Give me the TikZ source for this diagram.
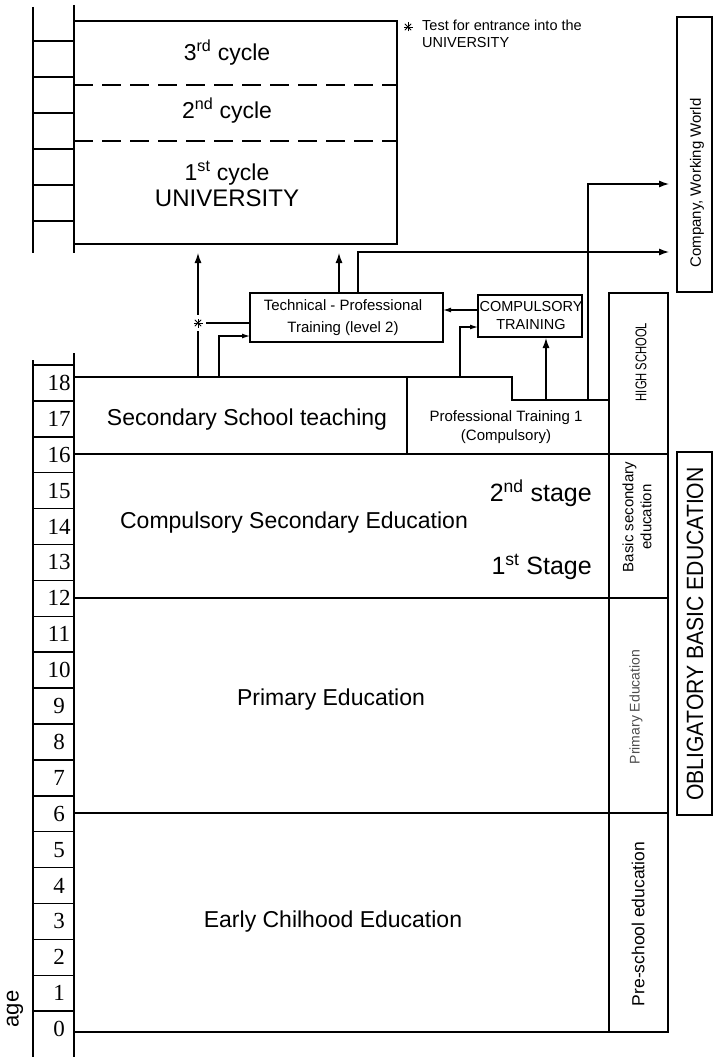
\documentclass[tikz,border=0pt]{standalone}
\usepackage{fontspec}
\setmainfont{Liberation Sans}
\newfontfamily\numfont{Liberation Serif}
\newfontfamily\condfont[FakeStretch=0.72]{Liberation Sans}
\newfontfamily\semicond[FakeStretch=0.9]{Liberation Sans}
\usetikzlibrary{arrows.meta}

\newcommand\fz[2]{\fontsize{#1}{#2}\selectfont}

\tikzset{
  frame/.style={draw, line width=1.7pt, inner sep=0pt, outer sep=0pt, rectangle},
  box/.style={draw, line width=1.3pt, inner sep=0pt, outer sep=0pt, rectangle},
  rail/.style={line width=1.7pt},
  rung/.style={line width=1.5pt},
  link/.style={line width=1.2pt},
  arr/.style={link, -{Latex[length=10pt,width=7pt]}},
  arrs/.style={link, -{Latex[length=8pt,width=5pt]}},
  num/.style={font=\numfont\fz{23}{23}, inner sep=0pt},
  big/.style={font=\fz{23}{27}, inner sep=0pt},
  small/.style={font=\fz{15}{20}, inner sep=0pt, align=center},
  side/.style={rotate=90, inner sep=0pt, align=center},
  asterisk/.style={circle, minimum size=16pt, inner sep=0pt,
    path picture={
      \foreach \a in {0,45,90,135}
        \draw[line width=0.8pt, shift={(path picture bounding box.center)}]
          (\a:4.5) -- (\a+180:4.5);
    }},
}

\begin{document}
\begin{tikzpicture}[x=1pt, y=-1pt]
\useasboundingbox (0,0) rectangle (713,1057);

% ---------- university ladder ----------
\draw[rail] (33,7) -- (33,253);
\draw[rail] (74,5) -- (74,253);
\foreach \k in {0,...,5}
  \draw[rung] (33,{41+36*\k}) -- (74,{41+36*\k});

% ---------- university block ----------
\node[frame, minimum width=323pt, minimum height=223pt] (univ) at (235.5,132.5) {};
\draw[line width=1.5pt, dash pattern=on 19pt off 9pt] (74,85) -- (397,85);
\draw[line width=1.5pt, dash pattern=on 19pt off 9pt] (74,141) -- (397,141);
\node[big] (c3) at (227,53) {3\textsuperscript{rd} cycle};
\node[big] (c2) at (227,111) {2\textsuperscript{nd} cycle};
\node[big, align=center, font=\fz{23}{27}] (c1) at (227,184)
  {1\textsuperscript{st} cycle\\[-1pt]{\fz{24}{27}UNIVERSITY}};

% ---------- note ----------
\node[asterisk] (notestar) at (408,27) {};
\node[anchor=north west, inner sep=0pt, align=left, font=\fz{14.5}{16.5}] (note)
  at (422,20) {Test for entrance into the\\UNIVERSITY};

% ---------- company ----------
\node[frame, minimum width=35pt, minimum height=275pt] (company) at (694.5,154.5) {};
\node[side, font=\fz{15}{15}] (companyT) at (697,183) {Company, Working World};

% ---------- training boxes ----------
\node[box, minimum width=193pt, minimum height=49pt] (tech) at (346.5,317.5) {};
\node[small, font=\fz{15}{22}] (techT) at (343,318)
  {Technical - Professional\\Training (level 2)};
\node[box, minimum width=104pt, minimum height=42pt] (comp) at (530,316) {};
\node[small, font=\fz{14.5}{18}] (compT) at (531,316) {COMPULSORY\\TRAINING};

% ---------- age ladder ----------
\draw[rail] (33,360) -- (33,1057);
\draw[rail] (74,353) -- (74,1057);
\foreach \k in {0,...,18}
  \draw[rung] (33,{365+35.9*\k}) -- (74,{365+35.9*\k});
\foreach \k in {0,...,18}{
  \pgfmathtruncatemacro\age{18-\k}
  \node[num] (age\age) at (59,{365+35.9*(\k+0.5)}) {\age};
}
\node[side, font=\fz{22}{22}] (agelabel) at (15,1009) {age};

% ---------- stages ----------
\node[frame, minimum width=333pt, minimum height=77pt] (sec) at (240.5,415.5) {};
\node[big] (secT) at (247,420) {Secondary School teaching};
\coordinate (ptA) at (512,377);
\coordinate (ptB) at (512,400);
\coordinate (ptC) at (609,400);
\draw[line width=1.7pt] (sec.north east) -- (ptA) -- (ptB) -- (ptC);
\node[small, font=\fz{15}{19}] (ptT) at (506,427) {Professional Training 1\\(Compulsory)};

\node[frame, minimum width=535pt, minimum height=144pt] (cse) at (341.5,526) {};
\node[big] (cseT) at (294,523) {Compulsory Secondary Education};
\node[big, font=\fz{25}{25}, anchor=east] (st2) at (592,493) {2\textsuperscript{nd} stage};
\node[big, font=\fz{25}{25}, anchor=east] (st1) at (592,567) {1\textsuperscript{st} Stage};

\node[frame, minimum width=535pt, minimum height=215pt] (prim) at (341.5,705.5) {};
\node[big] (primT) at (331,700) {Primary Education};

\node[frame, minimum width=535pt, minimum height=219pt] (early) at (341.5,922.5) {};
\node[big] (earlyT) at (333,922) {Early Chilhood Education};

% ---------- right-hand column ----------
\node[frame, minimum width=59pt, minimum height=161pt] (hs) at (638.5,373.5) {};
\node[side, font=\condfont\fz{15.5}{15.5}] (hsT) at (641,362) {HIGH SCHOOL};
\node[frame, minimum width=59pt, minimum height=144pt] (bse) at (638.5,526) {};
\node[side, font=\fz{15}{18}] (bseT) at (637,517) {Basic secondary\\education};
\node[frame, minimum width=59pt, minimum height=215pt] (pe) at (638.5,705.5) {};
\node[side, font=\fz{14}{14}, text=black!70] (peT) at (636,707) {Primary Education};
\node[frame, minimum width=59pt, minimum height=219pt] (pse) at (638.5,922.5) {};
\node[side, font=\fz{17.5}{17.5}] (pseT) at (638,924) {Pre-school education};

\node[frame, minimum width=35pt, minimum height=363pt] (oblig) at (694.5,633.5) {};
\node[side, font=\semicond\fz{23.5}{23.5}] (obligT) at (695,634) {OBLIGATORY BASIC EDUCATION};

% ---------- connectors ----------
\coordinate (s1) at (198,377);
\node[asterisk] (tst) at (198,323) {};
\coordinate (u1) at (198,253);
\draw[link] (s1) -- (tst);
\draw[arr] (tst) -- (u1);
\draw[link] (tst) -- (tst -| tech.west);

\coordinate (s2) at (219,377);
\coordinate (t2) at (250,336);
\draw[arrs] (s2) |- (t2);

\coordinate (t3) at (339,293);
\coordinate (u2) at (339,253);
\draw[arr] (t3) -- (u2);

\coordinate (t4) at (358,293);
\coordinate (cw1) at (669,252);
\draw[arr] (t4) |- (cw1);

\coordinate (p1) at (588,400);
\coordinate (cw2) at (669,184);
\draw[arr] (p1) |- (cw2);

\coordinate (c1) at (478,310);
\draw[arrs] (c1) -- (c1 -| tech.east);

\coordinate (p2) at (460,377);
\coordinate (c2) at (478,327);
\draw[arrs] (p2) |- (c2);

\coordinate (p3) at (546,400);
\coordinate (c3) at (546,338);
\draw[arr] (p3) -- (c3);
\end{tikzpicture}
\end{document}
